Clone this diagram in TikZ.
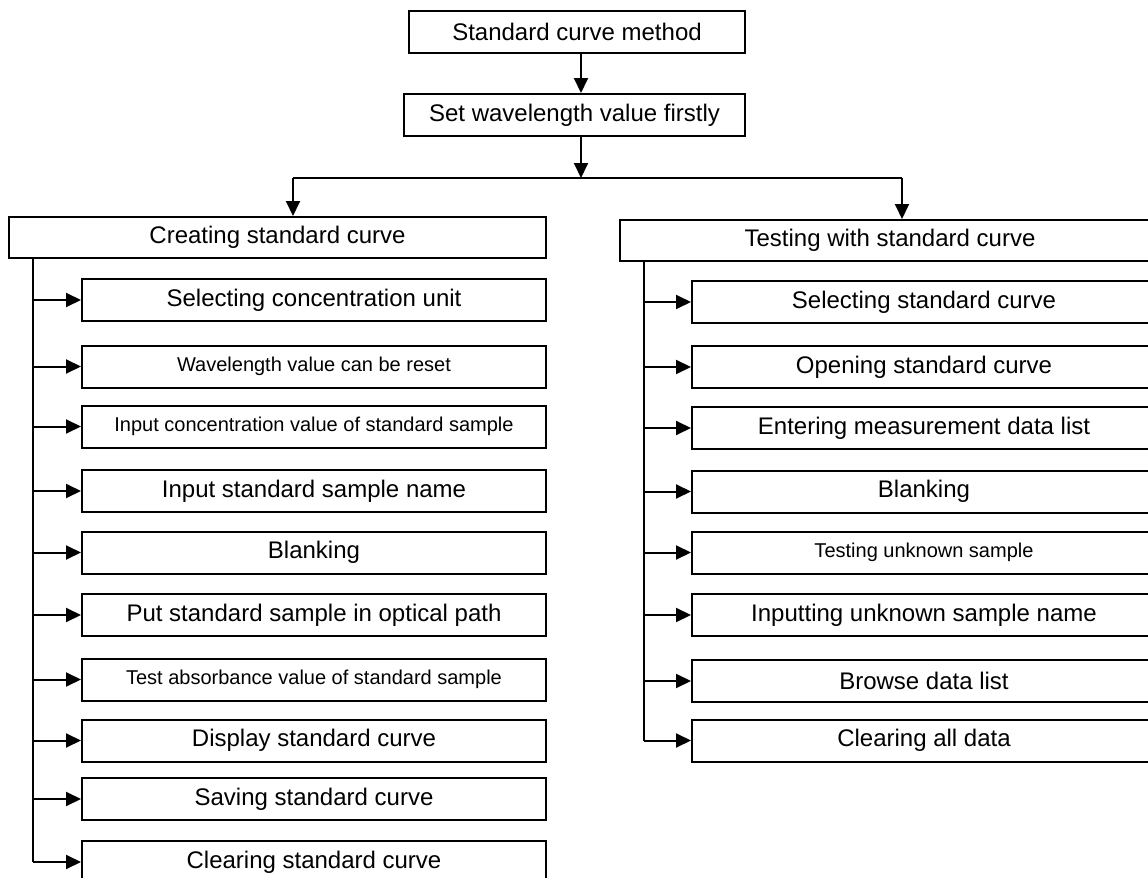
\documentclass[tikz,border=0pt]{standalone}
\usepackage{fontspec}
\setmainfont{Liberation Sans}
\usetikzlibrary{arrows.meta}

\tikzset{
  box/.style={draw, line width=1pt, inner sep=0pt, minimum height=21pt,
    font=\fontsize{12}{14}\selectfont},
  sub/.style={box, minimum width=232pt},
  small/.style={font=\fontsize{10}{12}\selectfont},
  arr/.style={-{Triangle[length=7.5pt,width=7pt]}, line width=1pt}
}

\begin{document}
\begin{tikzpicture}[x=0.5pt,y=-0.5pt]
    \useasboundingbox (0,0) rectangle (1148,878);

    % Head
    \node[box, minimum width=168pt] (method) at (577,32) {Standard curve method};
    \node[box, minimum width=170.5pt] (wave) at (574.5,115) {Set wavelength value firstly};
    \coordinate (split) at (581,178);
    \coordinate (jl) at (293,178);
    \coordinate (jr) at (902,178);
    \draw[arr] (split |- method.south) -- (split |- wave.north);
    \draw[arr] (split |- wave.south) -- (split);
    \draw[line width=1pt] (jl) -- (jr);

    % Two branches
    \node[box, minimum width=268.5pt, minimum height=20.5pt] (create) at (277.5,237.5) {Creating standard curve};
    \node[box, minimum width=270pt, minimum height=20.5pt] (test) at (890,240.5) {Testing with standard curve};
    \draw[arr] (jl) -- (jl |- create.north);
    \draw[arr] (jr) -- (jr |- test.north);

    % Creating standard curve
    \node[sub] (c1) at (314,300) {Selecting concentration unit};
    \node[sub, small] (c2) at (314,366.5) {Wavelength value can be reset};
    \node[sub, small] (c3) at (314,426.5) {Input concentration value of standard sample};
    \node[sub] (c4) at (314,491) {Input standard sample name};
    \node[sub] (c5) at (314,552.5) {Blanking};
    \node[sub] (c6) at (314,615) {Put standard sample in optical path};
    \node[sub, small] (c7) at (314,679.5) {Test absorbance value of standard sample};
    \node[sub] (c8) at (314,740.5) {Display standard curve};
    \node[sub] (c9) at (314,799) {Saving standard curve};
    \node[sub] (c10) at (314,862) {Clearing standard curve};

    \coordinate (ltrunk) at (33,258);
    \draw[line width=1pt] (ltrunk) -- (ltrunk |- c10.west);
    \foreach \n in {c1,c2,c3,c4,c5,c6,c7,c8,c9,c10}
      \draw[arr] (ltrunk |- \n.west) -- (\n.west);

    % Testing with standard curve
    \node[sub] (r1) at (924,302) {Selecting standard curve};
    \node[sub] (r2) at (924,367) {Opening standard curve};
    \node[sub] (r3) at (924,428) {Entering measurement data list};
    \node[sub] (r4) at (924,491.5) {Blanking};
    \node[sub, small] (r5) at (924,552.5) {Testing unknown sample};
    \node[sub] (r6) at (924,615) {Inputting unknown sample name};
    \node[sub] (r7) at (924,681) {Browse data list};
    \node[sub] (r8) at (924,740.5) {Clearing all data};

    \coordinate (rtrunk) at (644,261);
    \draw[line width=1pt] (rtrunk) -- (rtrunk |- r8.west);
    \foreach \n in {r1,r2,r3,r4,r5,r6,r7,r8}
      \draw[arr] (rtrunk |- \n.west) -- (\n.west);
\end{tikzpicture}
\end{document}
